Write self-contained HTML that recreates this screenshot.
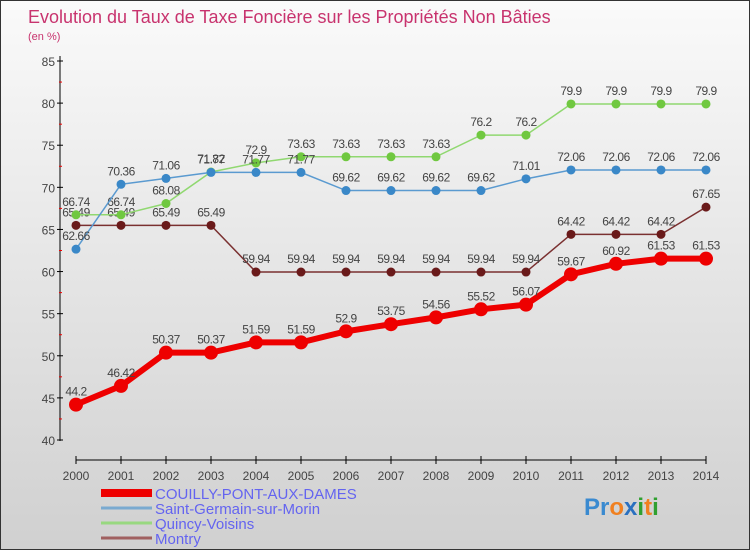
<!DOCTYPE html>
<html><head><meta charset="utf-8"><style>
body{margin:0;width:750px;height:550px;overflow:hidden;font-family:"Liberation Sans",sans-serif}
#wrap{position:relative;width:748px;height:548px;border:1px solid #333;background:linear-gradient(#fafafa,#d0d0d0)}
</style></head><body>
<div id="wrap">
<svg id="c" width="748" height="548" xmlns="http://www.w3.org/2000/svg">
<text x="27" y="22" font-size="18" fill="#c8336e">Evolution du Taux de Taxe Foncière sur les Propriétés Non Bâties</text>
<text x="27" y="39" font-size="11" fill="#c8336e">(en %)</text>
</svg>
</div>
<script>
const years=[2000,2001,2002,2003,2004,2005,2006,2007,2008,2009,2010,2011,2012,2013,2014];
const couilly=[44.2,46.42,50.37,50.37,51.59,51.59,52.9,53.75,54.56,55.52,56.07,59.67,60.92,61.53,61.53];
const stGermain=[62.66,70.36,71.06,71.77,71.77,71.77,69.62,69.62,69.62,69.62,71.01,72.06,72.06,72.06,72.06];
const quincy=[66.74,66.74,68.08,71.82,72.9,73.63,73.63,73.63,73.63,76.2,76.2,79.9,79.9,79.9,79.9];
const montry=[65.49,65.49,65.49,65.49,59.94,59.94,59.94,59.94,59.94,59.94,59.94,64.42,64.42,64.42,67.65];
const yTicks=[40,45,50,55,60,65,70,75,80,85];
const seriesNames=["COUILLY-PONT-AUX-DAMES","Saint-Germain-sur-Morin","Quincy-Voisins","Montry"];
const NS="http://www.w3.org/2000/svg";
const svg=document.getElementById('c');
const X=i=>75+i*45, Y=v=>439-(v-40)*(379/45);
function el(t,a,p){const e=document.createElementNS(NS,t);for(const k in a)e.setAttribute(k,a[k]);(p||svg).appendChild(e);return e;}
// y axis
let ax=el('line',{x1:59,y1:55,x2:59,y2:440,stroke:'#000','stroke-width':1});


yTicks.forEach((t,i)=>{
 el('line',{x1:56,x2:62,y1:Y(t),y2:Y(t),stroke:'#000'});
 if(i<yTicks.length-1) el('line',{x1:58,x2:61,y1:Y(t+2.5),y2:Y(t+2.5),stroke:'#e00'});
 const tx=el('text',{x:54,y:Y(t)+5,'text-anchor':'end','font-size':12,fill:'#444'});tx.textContent=t;
 
 
});
let xa=el('line',{x1:X(0),y1:459,x2:X(14),y2:459,stroke:'#000'});


years.forEach((y,i)=>{
 el('line',{x1:X(i),x2:X(i),y1:455,y2:463,stroke:'#000'});
 const tx=el('text',{x:X(i),y:479,'text-anchor':'middle','font-size':12,fill:'#444'});tx.textContent=y;
 
 
});
function series(data,color,dot,w,r,name){
 const g=el('g',{});
 
 
 el('polyline',{points:data.map((v,i)=>X(i)+','+Y(v)).join(' '),fill:'none',stroke:color,'stroke-width':w},g);
 data.forEach((v,i)=>{
  const c=el('circle',{cx:X(i),cy:Y(v),r:r,fill:dot},g);
  
  
  const t=el('text',{x:X(i),y:Y(v)-9,'text-anchor':'middle','font-size':12,fill:'#444','letter-spacing':'-0.5'},g);t.textContent=v;
 });
}
series(montry,'#7a3030','#6a1a1a',1.5,4.5,'series-montry');
series(quincy,'#90d870','#70c840',1.5,4.5,'series-quincy-voisins');
series(stGermain,'#5a9ad0','#3a88c8',1.5,4.5,'series-saint-germain');
series(couilly,'#ee0000','#ee0000',6,7,'series-couilly');
const lc=['#ee0000','#7aaad0','#98d880','#a06060'],lw=[8,3,3,3];
seriesNames.forEach((n,i)=>{
 const y=492+i*15;
 const g=el('g',{});
 
 
 el('line',{x1:100,x2:151,y1:y,y2:y,stroke:lc[i],'stroke-width':lw[i]},g);
 const t=el('text',{x:154,y:y+6,'font-size':15,fill:'#6464f0'},g);t.textContent=n;
});
const logo=el('text',{x:583,y:514,'font-size':24,'font-weight':'bold'});


[['Pr','#3a8ad0'],['o','#f08020'],['x','#2a70c0'],['i','#30a030'],['t','#f08020'],['i','#30a030']].forEach(([s,c])=>{const ts=el('tspan',{fill:c},logo);ts.textContent=s;});
</script>
</body></html>
